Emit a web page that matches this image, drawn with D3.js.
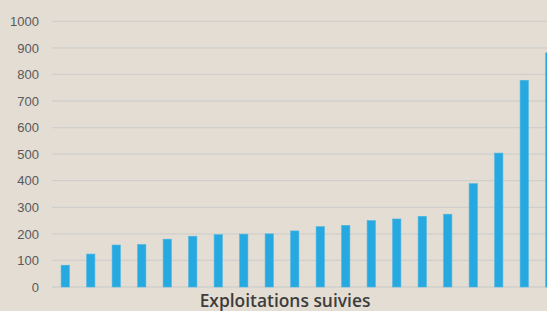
<!DOCTYPE html>
<html>
<head>
<meta charset="utf-8">
<script src="https://cdn.jsdelivr.net/npm/d3@7"></script>
<style>
  body { margin: 0; background: #e3ddd3; }
  svg { display: block; }
</style>
</head>
<body>
<div id="chart"></div>
<script>
// exploitations sorted by value
var farms = d3.range(1, 21).map(function(i) { return "E" + i; });
var values = [82, 124, 158, 160, 180, 191, 197, 199, 200, 211, 227, 232, 250, 256, 266, 274, 389, 504, 778, 881];
var yTicks = [0, 100, 200, 300, 400, 500, 600, 700, 800, 900, 1000];
var xTitle = "Exploitations suivies";

var width = 547, height = 311;

var svg = d3.select("#chart")
  .append("svg")
    .attr("width", width)
    .attr("height", height);

// plot runs past the right edge (last bar is cut off)
var x = d3.scaleBand()
  .domain(farms)
  .range([52.5, 562.5])
  .paddingInner(0.675)
  .paddingOuter(0.3375);

var y = d3.scaleLinear()
  .domain([0, 1000])
  .range([287, 21.3]);

// grid
svg.append("g")
  .selectAll("line")
  .data(yTicks)
  .enter()
  .append("line")
    .attr("x1", 52)
    .attr("x2", width)
    .attr("y1", function(d) { return y(d); })
    .attr("y2", function(d) { return y(d); })
    .attr("stroke", "#d0cfcc")
    .attr("stroke-width", 1.3);

// y axis labels
var yAxis = svg.append("g")
  .attr("transform", "translate(44,0)")
  .call(d3.axisLeft(y).tickValues(yTicks).tickFormat(d3.format("d")).tickSize(0).tickPadding(5));
yAxis.select(".domain").remove();
yAxis.selectAll("text")
  .attr("font-family", "Liberation Sans, Arial, sans-serif")
  .attr("font-size", "13px")
  .attr("fill", "#595959");

// bars
svg.append("g")
  .selectAll("rect")
  .data(values)
  .enter()
  .append("rect")
    .attr("x", function(d, i) { return x(farms[i]); })
    .attr("y", function(d) { return y(d); })
    .attr("width", x.bandwidth())
    .attr("height", function(d) { return y(0) - y(d); })
    .attr("fill", "#26a9e0")
    .attr("stroke", "#4db6e2")
    .attr("stroke-width", 0.6);

svg.append("text")
  .attr("x", 285)
  .attr("y", 307)
  .attr("text-anchor", "middle")
  .attr("font-family", "Open Sans, sans-serif")
  .attr("font-weight", "600")
  .attr("font-size", "17.4px")
  .attr("fill", "#3d3d3d")
  .text(xTitle);
</script>
</body>
</html>
